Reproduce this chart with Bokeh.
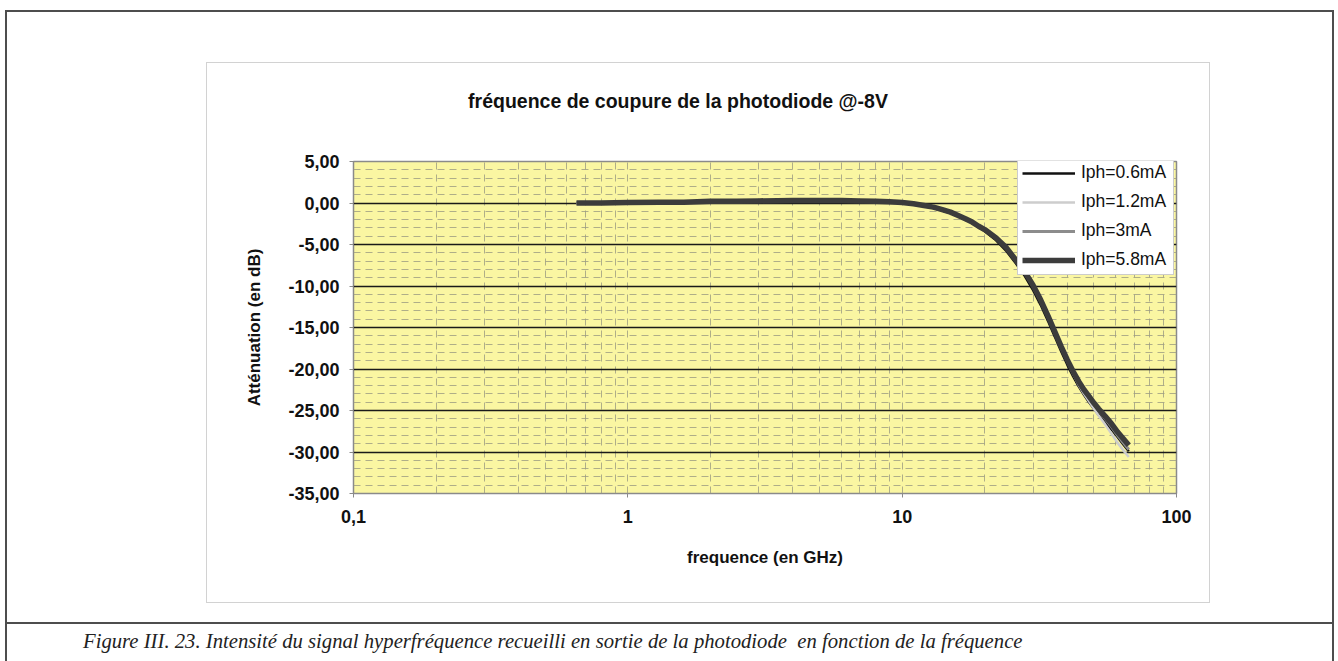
from bokeh.plotting import figure
from bokeh.layouts import column
from bokeh.models import Range1d, FixedTicker, Legend, LegendItem, Div
from bokeh.embed import file_html
from bokeh.resources import INLINE

# Measured cut-off response of the photodiode biased at -8 V
freq_ghz = [0.65, 0.8, 1.0, 1.3, 1.6, 2.0, 2.5, 3.0, 4.0, 5.0, 6.0, 7.0, 8.0, 9.0,
            10.0, 11.0, 12.0, 13.0, 14.0, 15.0, 16.0, 17.0, 18.0, 19.0, 20.0, 22.0,
            24.0, 26.0, 28.0, 30.0, 32.0, 34.0, 36.0, 38.0, 40.0, 42.0, 44.0, 46.0,
            48.0, 50.0, 52.0, 55.0, 58.0, 61.0, 64.0, 67.0]

att_06mA = [0.0, 0.0, 0.05, 0.05, 0.1, 0.15, 0.2, 0.2, 0.25, 0.3, 0.3, 0.25, 0.2, 0.1,
            0.0, -0.15, -0.35, -0.6, -0.9, -1.2, -1.6, -2.0, -2.4, -2.9, -3.4, -4.5,
            -5.8, -7.3, -8.8, -10.5, -12.3, -14.2, -16.1, -17.9, -19.5, -20.9, -22.1, -23.1,
            -24.0, -24.8, -25.5, -26.4, -27.3, -28.2, -29.1, -29.9]

att_12mA = [0.0, 0.0, 0.05, 0.1, 0.1, 0.2, 0.2, 0.25, 0.3, 0.3, 0.3, 0.25, 0.2, 0.15,
            0.05, -0.1, -0.3, -0.55, -0.85, -1.15, -1.55, -1.95, -2.35, -2.85, -3.3, -4.3,
            -5.5, -7.0, -8.5, -10.1, -11.9, -13.8, -15.7, -17.5, -19.1, -20.6, -21.9, -23.0,
            -23.9, -24.8, -25.6, -26.7, -27.8, -28.9, -29.8, -30.6]

att_3mA = [0.0, 0.0, 0.05, 0.1, 0.1, 0.2, 0.2, 0.25, 0.3, 0.3, 0.3, 0.25, 0.2, 0.15,
           0.05, -0.1, -0.3, -0.5, -0.8, -1.1, -1.5, -1.9, -2.3, -2.8, -3.2, -4.2,
           -5.4, -6.9, -8.4, -10.0, -11.8, -13.7, -15.6, -17.4, -19.0, -20.4, -21.6, -22.6,
           -23.5, -24.3, -25.0, -26.0, -27.0, -28.0, -28.9, -29.7]

att_58mA = [0.0, 0.0, 0.05, 0.1, 0.1, 0.2, 0.2, 0.25, 0.3, 0.3, 0.3, 0.25, 0.2, 0.15,
            0.05, -0.1, -0.3, -0.5, -0.8, -1.1, -1.5, -1.9, -2.3, -2.8, -3.2, -4.2,
            -5.4, -6.9, -8.3, -9.9, -11.7, -13.6, -15.5, -17.3, -18.9, -20.3, -21.5, -22.5,
            -23.3, -24.1, -24.8, -25.7, -26.6, -27.6, -28.4, -29.2]

series_labels = ["Iph=0.6mA", "Iph=1.2mA", "Iph=3mA", "Iph=5.8mA"]

x_ticks = [0.1, 1, 10, 100]
x_tick_labels = ["0,1", "1", "10", "100"]
y_ticks = [-35, -30, -25, -20, -15, -10, -5, 0, 5]
y_tick_labels = ["-35,00", "-30,00", "-25,00", "-20,00", "-15,00", "-10,00", "-5,00", "0,00", "5,00"]

title_text = "fréquence de coupure de la photodiode @-8V"
caption_text = ("Figure III. 23. Intensité du signal hyperfréquence recueilli en sortie "
                "de la photodiode&nbsp; en fonction de la fréquence")

# page geometry (pixels)
W, H = 1338, 661
FL, FR, FT, FB = 353, 1176, 161, 493   # plot frame edges

FONT = "Liberation Sans"
INK = "#111111"

# ---- page: document frame, chart box, chart title and figure caption ----
page_html = f"""
<div style="position:relative; width:{W}px; height:{H}px; background:#ffffff; overflow:hidden;">
  <div style="position:absolute; left:5px; top:10px; width:1329px; height:720px;
              border:2px solid #4d4d4d; box-sizing:border-box;"></div>
  <div style="position:absolute; left:5px; top:622px; width:1329px; height:0px;
              border-top:2px solid #4d4d4d;"></div>
  <div style="position:absolute; left:206px; top:62px; width:1004px; height:541px;
              border:1px solid #d2d2d2; box-sizing:border-box;"></div>
  <div style="position:absolute; left:0px; top:88px; width:1356px; line-height:26px;
              text-align:center; white-space:nowrap; font-family:'{FONT}'; font-weight:bold;
              font-size:19.5px; color:{INK};">{title_text}</div>
  <div style="position:absolute; left:83px; top:627px; line-height:28px; white-space:nowrap;
              font-family:'Liberation Serif'; font-style:italic; font-size:20.7px;
              color:#222222;">{caption_text}</div>
</div>
"""
page = Div(text=page_html, width=W, height=H, margin=0)

# ---- the chart itself, laid over the page ----
p = figure(width=W, height=H, x_axis_type="log",
           x_range=Range1d(0.1, 100), y_range=Range1d(-35, 5),
           output_backend="svg", toolbar_location=None,
           min_border_left=FL, min_border_right=W - FR,
           min_border_top=FT, min_border_bottom=H - FB)
p.styles = {"position": "absolute", "left": "0px", "top": "0px"}

p.background_fill_color = "#FAF6A2"
p.border_fill_color = None
p.outline_line_color = "#8a8a8a"
p.outline_line_width = 1.5

minor_x = [k * 10.0 ** d for d in (-1, 0, 1) for k in range(2, 10)]
p.xaxis.ticker = FixedTicker(ticks=x_ticks, minor_ticks=minor_x)
p.xaxis.major_label_overrides = {t: s for t, s in zip(x_ticks, x_tick_labels)}
p.yaxis.ticker = FixedTicker(ticks=y_ticks, minor_ticks=list(range(-35, 6)))
p.yaxis.major_label_overrides = {t: s for t, s in zip(y_ticks, y_tick_labels)}

for ax in (p.xaxis, p.yaxis):
    ax.axis_line_color = None
    ax.major_tick_line_color = "#8a8a8a"
    ax.major_tick_in = 0
    ax.major_tick_out = 4
    ax.minor_tick_line_color = None
    ax.major_label_text_font = FONT
    ax.major_label_text_font_style = "bold"
    ax.major_label_text_font_size = "18px"
    ax.major_label_text_color = INK
    ax.axis_label_text_font = FONT
    ax.axis_label_text_font_style = "bold"
    ax.axis_label_text_font_size = "17px"
    ax.axis_label_text_color = INK

p.xaxis.major_label_standoff = 12
p.yaxis.major_label_standoff = 10
p.xaxis.axis_label = "frequence (en GHz)"
p.yaxis.axis_label = "Atténuation (en dB)"
p.xaxis.axis_label_standoff = 22
p.yaxis.axis_label_standoff = 21

# grid: solid major lines every 5 dB, dashed minor lattice
DASH = "#9c9c82"
p.ygrid.grid_line_color = "#1a1a1a"
p.ygrid.grid_line_width = 1.6
p.ygrid.minor_grid_line_color = DASH
p.ygrid.minor_grid_line_alpha = 0.8
p.ygrid.minor_grid_line_dash = "7 5"
p.xgrid.grid_line_color = DASH
p.xgrid.grid_line_alpha = 0.8
p.xgrid.grid_line_dash = "7 5"
p.xgrid.minor_grid_line_color = DASH
p.xgrid.minor_grid_line_alpha = 0.8
p.xgrid.minor_grid_line_dash = "7 5"

# curves, drawn in series order so the 5.8 mA trace sits on top
styles = [("#111111", 2.5), ("#cdcdcd", 2.5), ("#8c8c8c", 3.0), ("#3c3c3c", 5.5)]
renderers = []
for vals, (col, lw) in zip([att_06mA, att_12mA, att_3mA, att_58mA], styles):
    renderers.append(p.line(freq_ghz, vals, line_color=col, line_width=lw))

# legend kept fully inside the plot frame
legend = Legend(items=[LegendItem(label=lab, renderers=[r])
                       for lab, r in zip(series_labels, renderers)],
                location=(1017 - FL, FB - 275))
legend.glyph_width = 53
legend.glyph_height = 20
legend.label_height = 20
legend.label_width = 88
legend.label_standoff = 6
legend.spacing = 8
legend.padding = 4
legend.margin = 0
legend.label_text_font = FONT
legend.label_text_font_size = "17.5px"
legend.label_text_color = INK
legend.border_line_color = "#9a9a9a"
legend.border_line_width = 1
legend.background_fill_color = "white"
legend.background_fill_alpha = 1.0
p.add_layout(legend, "center")

root = column(page, p)
open("out.html", "w").write(file_html(root, INLINE))
